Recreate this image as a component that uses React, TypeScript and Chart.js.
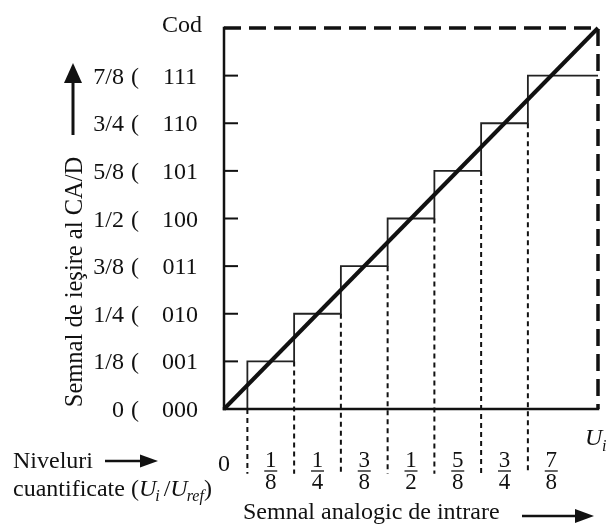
import React, { useEffect, useRef } from "react";
import { Chart, registerables } from "chart.js";

Chart.register(...registerables);

// ---- data ----
const codes = ["000", "001", "010", "011", "100", "101", "110", "111"];
const levelLabels = ["0", "1/8", "1/4", "3/8", "1/2", "5/8", "3/4", "7/8"];
const levels = [0, 0.125, 0.25, 0.375, 0.5, 0.625, 0.75, 0.875];
// transition points of the quantizer (U_i / U_ref)
const thresholds = [0.0625, 0.1875, 0.3125, 0.4375, 0.5625, 0.6875, 0.8125];
// staircase vertices (horizontal first, then vertical)
const stairX = [0, 0.0625, 0.1875, 0.3125, 0.4375, 0.5625, 0.6875, 0.8125, 1];
const stairY = [0, 0.125, 0.25, 0.375, 0.5, 0.625, 0.75, 0.875, 0.875];
// ideal characteristic
const idealX = [0, 1];
const idealY = [0, 1];
// full-scale dashed frame
const frameX = [0, 1, 1];
const frameY = [1, 1, 0];
// quantized level fractions on the x axis
const fracPos = [0.125, 0.25, 0.375, 0.5, 0.625, 0.75, 0.875];
const fracNum = ["1", "1", "3", "1", "5", "3", "7"];
const fracDen = ["8", "4", "8", "2", "8", "4", "8"];
const riserBottom = -0.17;

const SERIF = '"Liberation Serif", "Times New Roman", serif';
const INK = "#111";

function pts(xs: number[], ys: number[]) {
  return xs.map((x, i) => ({ x, y: ys[i] }));
}

const overlay = {
  id: "adcOverlay",
  afterDraw(chart: any) {
    const ctx: CanvasRenderingContext2D = chart.ctx;
    const xs = chart.scales.x;
    const ys = chart.scales.y;
    const X = (v: number) => xs.getPixelForValue(v);
    const Y = (v: number) => ys.getPixelForValue(v);
    const line = (x1: number, y1: number, x2: number, y2: number) => {
      ctx.beginPath();
      ctx.moveTo(x1, y1);
      ctx.lineTo(x2, y2);
      ctx.stroke();
    };
    ctx.save();
    ctx.strokeStyle = INK;
    ctx.fillStyle = INK;
    ctx.setLineDash([]);

    // axes
    ctx.lineWidth = 2.5;
    ctx.lineCap = "square";
    line(X(0), Y(1), X(0), Y(0));
    line(X(0), Y(0), X(1), Y(0));
    ctx.lineCap = "butt";
    // y ticks
    ctx.lineWidth = 2;
    levels.slice(1).forEach((l) => line(X(0), Y(l), X(0) + 14, Y(l)));

    // texts
    ctx.textBaseline = "alphabetic";
    ctx.font = `24px ${SERIF}`;
    ctx.textAlign = "center";
    ctx.fillText("Cod", 182, 32);
    levels.forEach((l, i) => {
      ctx.font = `24px ${SERIF}`;
      ctx.textAlign = "center";
      ctx.fillText(codes[i], 180, Y(l) + 8);
      ctx.textAlign = "right";
      ctx.fillText(levelLabels[i], 124, Y(l) + 8);
      ctx.save();
      ctx.beginPath();
      ctx.rect(120, Y(l) - 20, 20.5, 40);
      ctx.clip();
      ctx.textAlign = "left";
      ctx.fillText("(", 131, Y(l) + 8);
      ctx.font = `italic 24px ${SERIF}`;
      ctx.fillText("U", 139, Y(l) + 8);
      ctx.restore();
    });

    // y title (rotated)
    ctx.save();
    ctx.translate(82, 282);
    ctx.rotate(-Math.PI / 2);
    ctx.font = `24.5px ${SERIF}`;
    ctx.textAlign = "center";
    ctx.fillText("Semnal de ieşire al CA/D", 0, 0);
    ctx.restore();
    // y arrow
    ctx.lineWidth = 3;
    line(73, 135, 73, 78);
    ctx.beginPath();
    ctx.moveTo(73, 63);
    ctx.lineTo(64, 83);
    ctx.lineTo(82, 83);
    ctx.closePath();
    ctx.fill();

    // x labels
    ctx.font = `24px ${SERIF}`;
    ctx.textAlign = "center";
    ctx.fillText("0", X(0), 471);
    fracPos.forEach((p, i) => {
      ctx.font = `23px ${SERIF}`;
      ctx.textAlign = "center";
      ctx.fillText(fracNum[i], X(p), 467);
      ctx.fillText(fracDen[i], X(p), 489);
      ctx.lineWidth = 1.3;
      line(X(p) - 6.5, 471, X(p) + 6.5, 471);
    });

    // U_i at right end of x axis
    ctx.textAlign = "left";
    ctx.font = `italic 24px ${SERIF}`;
    ctx.fillText("U", 585, 445);
    ctx.font = `italic 16px ${SERIF}`;
    ctx.fillText("i", 602, 451);

    // Niveluri ->
    ctx.font = `24px ${SERIF}`;
    ctx.fillText("Niveluri", 13, 468);
    ctx.lineWidth = 2.5;
    line(105, 461, 145, 461);
    ctx.beginPath();
    ctx.moveTo(158, 461);
    ctx.lineTo(140, 454.5);
    ctx.lineTo(140, 467.5);
    ctx.closePath();
    ctx.fill();

    // cuantificate (U_i / U_ref)
    let cx = 13;
    const by = 496;
    ctx.font = `24px ${SERIF}`;
    ctx.fillText("cuantificate (", cx, by);
    cx += ctx.measureText("cuantificate (").width;
    ctx.font = `italic 24px ${SERIF}`;
    ctx.fillText("U", cx, by);
    cx += ctx.measureText("U").width - 1;
    ctx.font = `italic 16px ${SERIF}`;
    ctx.fillText("i", cx, by + 5);
    cx += ctx.measureText("i").width + 4;
    ctx.font = `24px ${SERIF}`;
    ctx.fillText("/", cx, by);
    cx += ctx.measureText("/").width;
    ctx.font = `italic 24px ${SERIF}`;
    ctx.fillText("U", cx, by);
    cx += ctx.measureText("U").width - 1;
    ctx.font = `italic 16px ${SERIF}`;
    ctx.fillText("ref", cx, by + 5);
    cx += ctx.measureText("ref").width;
    ctx.font = `24px ${SERIF}`;
    ctx.fillText(")", cx, by);

    // Semnal analogic de intrare ->
    ctx.font = `24px ${SERIF}`;
    ctx.fillText("Semnal analogic de intrare", 243, 519);
    ctx.lineWidth = 2.5;
    line(522, 516, 580, 516);
    ctx.beginPath();
    ctx.moveTo(594, 516);
    ctx.lineTo(575, 509);
    ctx.lineTo(575, 523);
    ctx.closePath();
    ctx.fill();

    ctx.restore();
  },
};

export default function App() {
  const ref = useRef<HTMLCanvasElement | null>(null);
  useEffect(() => {
    document.body.style.margin = "0";
    const canvas = ref.current;
    if (!canvas) return;
    const risers = thresholds.map((t, i) => ({
      data: [
        { x: t, y: levels[i] },
        { x: t, y: riserBottom },
      ],
      borderColor: INK,
      borderWidth: 2,
      borderDash: [5, 4],
      pointRadius: 0,
      showLine: true,
      clip: false as any,
    }));
    const chart = new Chart(canvas, {
      type: "scatter",
      data: {
        datasets: [
          {
            data: pts(idealX, idealY),
            borderColor: INK,
            borderWidth: 4,
            pointRadius: 0,
            showLine: true,
            clip: false as any,
          },
          {
            data: pts(stairX, stairY),
            borderColor: "#222",
            borderWidth: 1.8,
            pointRadius: 0,
            showLine: true,
            stepped: "before",
            clip: false as any,
          } as any,
          {
            data: pts(frameX, frameY),
            borderColor: INK,
            borderWidth: 3.5,
            borderDash: [17, 8],
            pointRadius: 0,
            showLine: true,
            clip: false as any,
          },
          ...risers,
        ],
      },
      options: {
        responsive: false,
        animation: false,
        devicePixelRatio: 1,
        layout: { padding: { left: 224, right: 10, top: 28, bottom: 116 } },
        scales: {
          x: { type: "linear", min: 0, max: 1, display: false },
          y: { type: "linear", min: 0, max: 1, display: false },
        },
        plugins: {
          legend: { display: false },
          tooltip: { enabled: false },
        },
      },
      plugins: [overlay],
    });
    return () => chart.destroy();
  }, []);
  return (
    <canvas
      ref={ref}
      width={608}
      height={525}
      style={{ display: "block", width: 608, height: 525 }}
    />
  );
}
